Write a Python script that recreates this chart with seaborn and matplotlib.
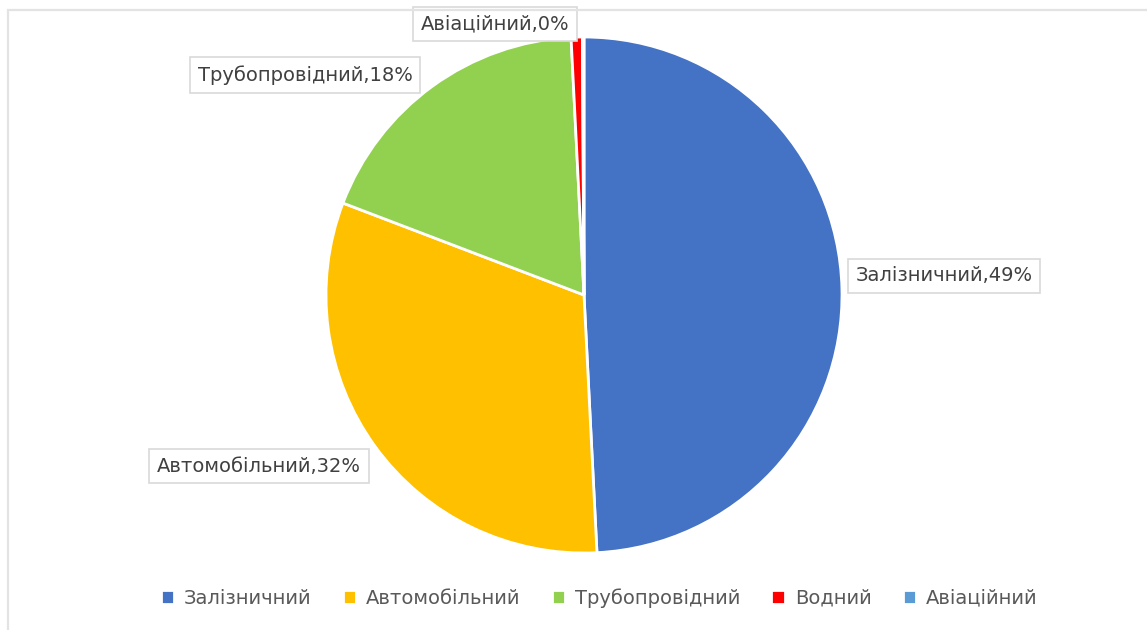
import numpy as np
import matplotlib
matplotlib.use("Agg")
import matplotlib.pyplot as plt
import seaborn as sns
from matplotlib.patches import Rectangle

# ---- data ----
categories = ["Залізничний", "Автомобільний", "Трубопровідний", "Водний", "Авіаційний"]
values = [49.2, 31.6, 18.4, 0.7, 0.1]
colors = ["#4472C4", "#FFC000", "#92D050", "#FF0000", "#5B9BD5"]
# categories that carry a data label, and label box centres (in pie-radius units)
labelled = ["Залізничний", "Автомобільний", "Трубопровідний", "Авіаційний"]
label_pos = {
    "Залізничний": (1.395, 0.074),
    "Автомобільний": (-1.260, -0.663),
    "Трубопровідний": (-1.081, 0.853),
    "Авіаційний": (-0.345, 1.050),
}

sns.set_theme(style="white")
plt.rcParams["font.family"] = ["DejaVu Sans"]

W, H = 1147, 630
fig = plt.figure(figsize=(W / 100, H / 100), dpi=100)
fig.patch.set_facecolor("white")

# light chart-area frame (top and left edges visible)
fig.patches.append(Rectangle((8 / W, -0.1), 1.2, (H - 10) / H + 0.1,
                             transform=fig.transFigure, fill=False,
                             edgecolor="#e3e3e3", linewidth=1.6, zorder=0))

cx, cy, R = 584, H - 295, 258
ax = fig.add_axes([(cx - R) / W, (cy - R) / H, 2 * R / W, 2 * R / H])
ax.axis("off")

wedges, _ = ax.pie(values, colors=colors, startangle=90, counterclock=False,
                   radius=1, wedgeprops=dict(edgecolor="white", linewidth=2))
ax.set_xlim(-1, 1)
ax.set_ylim(-1, 1)

total = sum(values)
for name, v in zip(categories, values):
    if name not in labelled:
        continue
    x, y = label_pos[name]
    ax.text(x, y, f"{name},{v / total * 100:.0f}%", ha="center", va="center",
            fontsize=14, color="#404040", clip_on=False,
            bbox=dict(boxstyle="square,pad=0.4", facecolor="white",
                      edgecolor="#d9d9d9", linewidth=1.2))

leg = fig.legend(wedges, categories, loc="center", bbox_to_anchor=(599 / W, 1 - 598 / H),
                 ncol=5, frameon=False, fontsize=14, handlelength=0.7,
                 handleheight=0.7, handletextpad=0.5, columnspacing=1.6)
for t in leg.get_texts():
    t.set_color("#595959")

fig.savefig("out.png", dpi=100, facecolor="white")
